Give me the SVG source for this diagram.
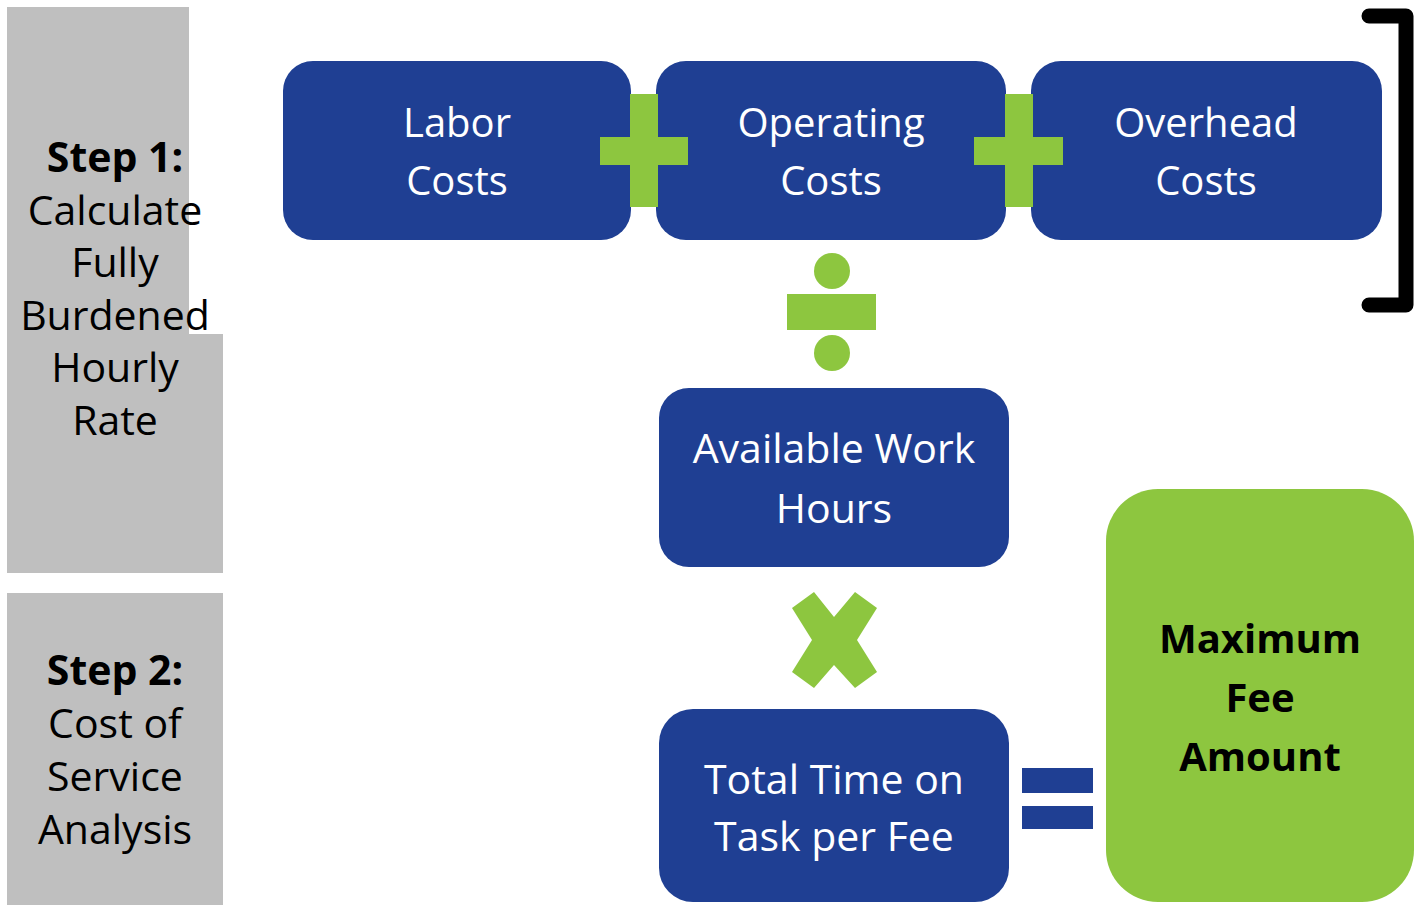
<svg xmlns="http://www.w3.org/2000/svg" width="1421" height="905" viewBox="0 0 1421 905">
<style>
.box{fill:#1F3F93}
.op{fill:#8DC63F}
.wt{font-family:"Open Sans","Liberation Sans",sans-serif;font-size:40px;fill:#FFFFFF;text-anchor:middle}
.lt{font-family:"Open Sans","Liberation Sans",sans-serif;font-size:41px;fill:#000000;text-anchor:middle}
.b{font-weight:bold}
.mt{font-family:"Open Sans","Liberation Sans",sans-serif;font-size:40px;font-weight:bold;fill:#000000;text-anchor:middle}
</style>
<rect width="1421" height="905" fill="#FFFFFF"/>
<g id="step1">
<polygon points="7,7 189,7 189,334 223,334 223,573 7,573" fill="#BFBFBF"/>
<text class="lt"><tspan class="b" x="115" y="172">Step 1:</tspan><tspan x="115" y="225">Calculate</tspan><tspan x="115" y="277">Fully</tspan><tspan x="115" y="330">Burdened</tspan><tspan x="115" y="382">Hourly</tspan><tspan x="115" y="435">Rate</tspan></text>
</g>
<g id="step2">
<rect x="7" y="593" width="216" height="312" fill="#BFBFBF"/>
<text class="lt"><tspan class="b" x="115" y="685">Step 2:</tspan><tspan x="115" y="738">Cost of</tspan><tspan x="115" y="791">Service</tspan><tspan x="115" y="844">Analysis</tspan></text>
</g>
<g id="labor">
<rect class="box" x="283" y="61" width="348" height="179" rx="30"/>
<text class="wt"><tspan x="457" y="137">Labor</tspan><tspan x="457" y="195">Costs</tspan></text>
</g>
<g id="operating">
<rect class="box" x="656" y="61" width="350" height="179" rx="30"/>
<text class="wt"><tspan x="831" y="137">Operating</tspan><tspan x="831" y="195">Costs</tspan></text>
</g>
<g id="overhead">
<rect class="box" x="1031" y="61" width="351" height="179" rx="30"/>
<text class="wt"><tspan x="1206" y="137">Overhead</tspan><tspan x="1206" y="195">Costs</tspan></text>
</g>
<g id="hours">
<rect class="box" x="659" y="388" width="350" height="179" rx="30"/>
<text class="wt" style="font-size:41px"><tspan x="834" y="463">Available Work</tspan><tspan x="834" y="523">Hours</tspan></text>
</g>
<g id="total">
<rect class="box" x="659" y="709" width="350" height="193" rx="34"/>
<text class="wt" style="font-size:41px"><tspan x="834" y="794">Total Time on</tspan><tspan x="834" y="851">Task per Fee</tspan></text>
</g>
<g id="maxfee">
<rect class="op" x="1106" y="489" width="308" height="413" rx="52"/>
<text class="mt"><tspan x="1260" y="653">Maximum</tspan><tspan x="1260" y="712">Fee</tspan><tspan x="1260" y="771">Amount</tspan></text>
</g>
<g id="connectors">
<g id="plus1" class="op">
<rect x="630" y="94" width="28" height="113"/>
<rect x="600" y="137" width="88" height="28"/>
</g>
<g id="plus2" class="op">
<rect x="1005" y="94" width="28" height="113"/>
<rect x="974" y="137" width="89" height="28"/>
</g>
<g id="divide" class="op">
<circle cx="832" cy="271" r="18"/>
<rect x="787" y="294" width="89" height="36"/>
<circle cx="832" cy="353" r="18"/>
</g>
<polygon id="times" class="op" points="792,608 814,592 834,617 855,592 877,608 857,640 877,672 855,688 834,665 814,688 792,672 812,640"/>
<g id="equals" fill="#1F3F93">
<rect x="1022" y="768" width="71" height="25"/>
<rect x="1022" y="806" width="71" height="23"/>
</g>
<path id="bracket" d="M1369,16 H1406 V305 H1369" fill="none" stroke="#000000" stroke-width="15" stroke-linecap="round" stroke-linejoin="round"/>
</g>
</svg>
